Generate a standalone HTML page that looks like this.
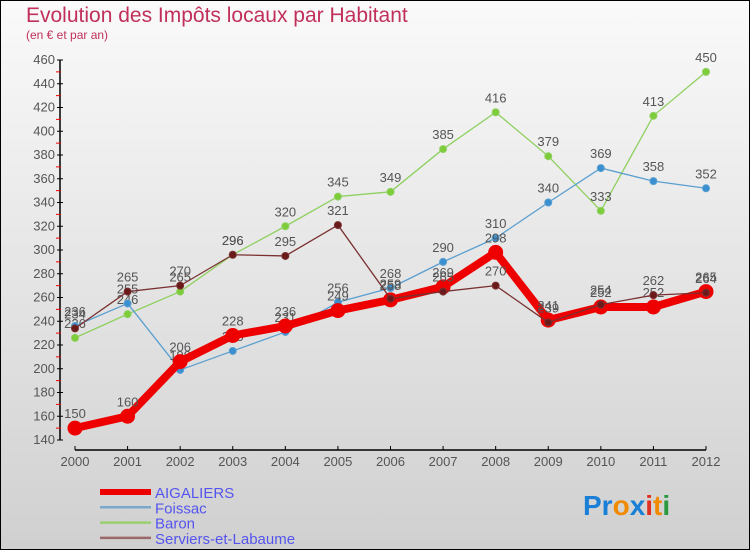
<!DOCTYPE html>
<html><head><meta charset="utf-8"><style>
body{margin:0;padding:0}
svg{display:block;font-family:"Liberation Sans",sans-serif}
</style></head><body>
<svg width="750" height="550" viewBox="0 0 750 550">
<defs><linearGradient id="bg" x1="0" y1="0" x2="0" y2="1"><stop offset="0" stop-color="#fafafa"/><stop offset="1" stop-color="#d0d0d0"/></linearGradient></defs>
<rect x="0.5" y="0.5" width="749" height="549" fill="url(#bg)" stroke="#000"/>
<text x="26" y="22" font-size="21" fill="#c0305a">Evolution des Impôts locaux par Habitant</text>
<text x="26" y="39" font-size="12" fill="#c0305a">(en € et par an)</text>
<g id="axes"></g>
<g id="series"></g>
<g id="legend"></g>
<text x="583" y="515" font-size="28" font-weight="bold"><tspan fill="#1a7fd6">Pr</tspan><tspan fill="#f08a00">o</tspan><tspan fill="#1a7fd6">x</tspan><tspan fill="#e03020">i</tspan><tspan fill="#f08a00">t</tspan><tspan fill="#2a9a40">i</tspan></text>
</svg>
<script>
const years=[2000,2001,2002,2003,2004,2005,2006,2007,2008,2009,2010,2011,2012];
const yTicks=[140,160,180,200,220,240,260,280,300,320,340,360,380,400,420,440,460];
const aigaliers=[150,160,206,228,236,249,258,269,298,241,252,252,265];
const foissac=[236,255,199,215,231,256,268,290,310,340,369,358,352];
const baron=[226,246,265,296,320,345,349,385,416,379,333,413,450];
const serviers=[234,265,270,296,295,321,259,265,270,239,254,262,264];
const NS='http://www.w3.org/2000/svg';
function X(i){return 75+(706-75)*i/(years.length-1);}
function Y(v){return 440-(v-140)*(380/320);}
function mk(tag,attrs,parent){const e=document.createElementNS(NS,tag);for(const k in attrs)e.setAttribute(k,attrs[k]);parent.appendChild(e);return e;}
const axes=document.getElementById('axes');
let ya=mk('line',{x1:60,y1:Y(460),x2:60,y2:Y(140),stroke:'#000','stroke-width':1.5},axes);


yTicks.forEach((t,i)=>{
 const y=Y(t);
 mk('line',{x1:57,x2:63,y1:y,y2:y,stroke:'#000'},axes);
 const tx=mk('text',{x:55,y:y+4,'text-anchor':'end','font-size':13,fill:'#555'},axes);
 tx.textContent=t;
 
 
 if(i<yTicks.length-1) mk('line',{x1:56,x2:61,y1:Y(t+10),y2:Y(t+10),stroke:'#e00'},axes);
});
let xa=mk('line',{x1:X(0),y1:450,x2:X(12),y2:450,stroke:'#000','stroke-width':1.5},axes);


years.forEach((yr,i)=>{
 mk('line',{x1:X(i),x2:X(i),y1:446,y2:450,stroke:'#000'},axes);
 const tx=mk('text',{x:X(i),y:466,'text-anchor':'middle','font-size':13,fill:'#555'},axes);
 tx.textContent=yr;
 
 
});
const S=document.getElementById('series');
function draw(vals,color,w,r,name,ptColor){
 const g=mk('g',{},S);
 
 
 mk('polyline',{points:vals.map((v,i)=>X(i)+','+Y(v)).join(' '),fill:'none',stroke:color,'stroke-width':w,'stroke-linejoin':'round'},g);
 vals.forEach((v,i)=>{
  const c=mk('circle',{cx:X(i),cy:Y(v),r:r,fill:ptColor,stroke:color,'stroke-width':1},g);
  
  
  const t=mk('text',{x:X(i),y:Y(v)-10,'text-anchor':'middle','font-size':13,fill:'#555'},g);
  t.textContent=v;
  
  
 });
}
draw(baron,'#8fd060',1.3,3.5,'baron','#7dcc3a');
draw(foissac,'#5a9fd0',1.3,3.5,'foissac','#3a8fd0');
draw(aigaliers,'#ee0000',8,7,'aigaliers','#ee0000');
draw(serviers,'#7a3030',1.3,3.5,'serviers','#6a1a1a');
const L=document.getElementById('legend');
[['AIGALIERS','#ee0000',6],['Foissac','#7aa8cc',2.5],['Baron','#9ad070',2.5],['Serviers-et-Labaume','#9a6a6a',2.5]].forEach((e,i)=>{
 const y=492+i*15.3;
 const g=mk('g',{},L);
 
 
 mk('line',{x1:100,x2:151,y1:y,y2:y,stroke:e[1],'stroke-width':e[2]},g);
 const t=mk('text',{x:155,y:y+6,'font-size':15,fill:'#5555ee'},g);
 t.textContent=e[0];
});
</script>
</body></html>
